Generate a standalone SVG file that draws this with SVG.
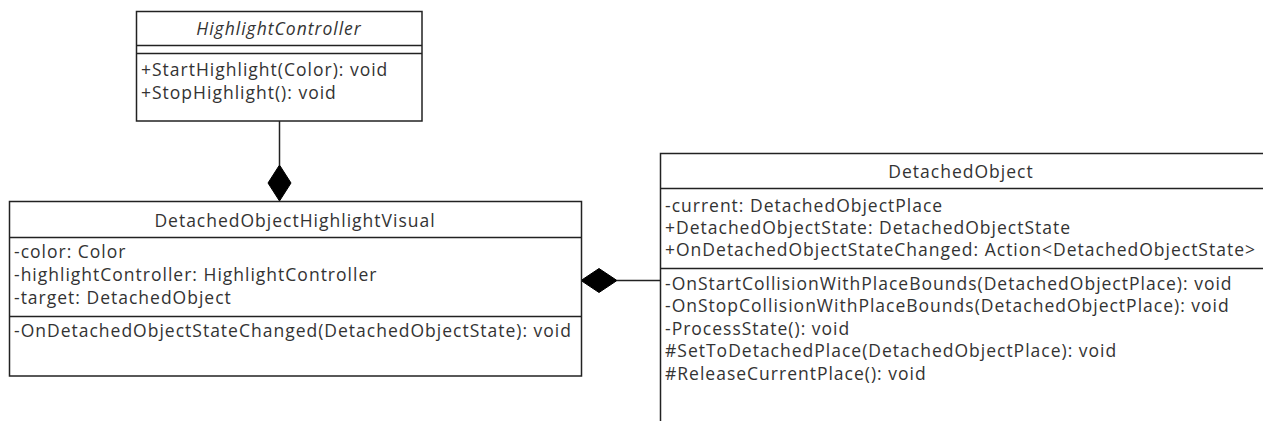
<svg xmlns="http://www.w3.org/2000/svg" width="1263" height="421" viewBox="0 0 1263 421">
<style>
.box{fill:#fff;stroke:#222;stroke-width:1.5}
.div{stroke:#222;stroke-width:1.5}
.t{font-family:"Open Sans","Noto Sans",sans-serif;font-size:17.5px;letter-spacing:1px;fill:#333}
.c{text-anchor:middle}
.i{font-style:italic}
.edge{stroke:#222;stroke-width:1.5;fill:none}
.dia{fill:#000;stroke:#000;stroke-width:1}
</style>
<rect width="1263" height="421" fill="#fff"/>
<g id="connectors">
<line class="edge" x1="279.5" y1="121" x2="279.5" y2="165"/>
<polygon class="dia" points="279.5,165 268,183 279.5,201 291,183"/>
<line class="edge" x1="617" y1="280.5" x2="660" y2="280.5"/>
<polygon class="dia" points="581,280.5 599,268.5 617,280.5 599,292.5"/>
</g>
<g id="HighlightController">
<rect class="box" x="136.5" y="11.5" width="285.5" height="109.5"/>
<line class="div" x1="136.5" y1="45.5" x2="422" y2="45.5"/>
<line class="div" x1="136.5" y1="53.5" x2="422" y2="53.5"/>
<text class="t c i" x="279" y="35">HighlightController</text>
<text class="t" x="141" y="76">+StartHighlight(Color): void</text>
<text class="t" x="141" y="99">+StopHighlight(): void</text>
</g>
<g id="DetachedObjectHighlightVisual">
<rect class="box" x="9.5" y="201.5" width="572" height="174.5"/>
<line class="div" x1="9.5" y1="237.5" x2="581.5" y2="237.5"/>
<line class="div" x1="9.5" y1="316.5" x2="581.5" y2="316.5"/>
<text class="t c" x="295" y="227">DetachedObjectHighlightVisual</text>
<text class="t" x="14" y="258">-color: Color</text>
<text class="t" x="14" y="281">-highlightController: HighlightController</text>
<text class="t" x="14" y="304">-target: DetachedObject</text>
<text class="t" x="14" y="337">-OnDetachedObjectStateChanged(DetachedObjectState): void</text>
</g>
<g id="DetachedObject">
<rect class="box" x="660.5" y="153.5" width="610" height="280"/>
<line class="div" x1="660.5" y1="188.5" x2="1270" y2="188.5"/>
<line class="div" x1="660.5" y1="268.5" x2="1270" y2="268.5"/>
<text class="t c" x="961" y="178">DetachedObject</text>
<text class="t" x="665" y="212">-current: DetachedObjectPlace</text>
<text class="t" x="665" y="234">+DetachedObjectState: DetachedObjectState</text>
<text class="t" x="665" y="256">+OnDetachedObjectStateChanged: Action&lt;DetachedObjectState&gt;</text>
<text class="t" x="665" y="290">-OnStartCollisionWithPlaceBounds(DetachedObjectPlace): void</text>
<text class="t" x="665" y="312">-OnStopCollisionWithPlaceBounds(DetachedObjectPlace): void</text>
<text class="t" x="665" y="335">-ProcessState(): void</text>
<text class="t" x="665" y="357">#SetToDetachedPlace(DetachedObjectPlace): void</text>
<text class="t" x="665" y="380">#ReleaseCurrentPlace(): void</text>
</g>
</svg>
